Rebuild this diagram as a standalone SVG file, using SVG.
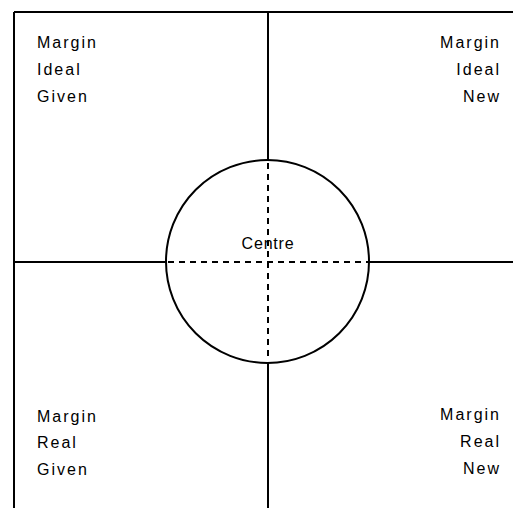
<svg xmlns="http://www.w3.org/2000/svg" width="513" height="508" viewBox="0 0 513 508">
<style>
.s{stroke:#000;stroke-width:2;fill:none}
.d{stroke:#000;stroke-width:2;fill:none;stroke-dasharray:6 5}
.t{font-family:"Liberation Sans",Arial,sans-serif;font-size:16px;letter-spacing:2px;fill:#000}
.c{font-family:"Liberation Sans",Arial,sans-serif;font-size:16px;letter-spacing:0.8px;fill:#000;text-anchor:middle}
.e{text-anchor:end}
</style>
<rect width="513" height="508" fill="#fff"/>
<g id="connectors">
<line class="s" x1="14" y1="12" x2="513" y2="12"/>
<line class="s" x1="14" y1="12" x2="14" y2="508"/>
<line class="s" x1="268" y1="12" x2="268" y2="161"/>
<line class="s" x1="268" y1="362" x2="268" y2="508"/>
<line class="s" x1="14" y1="262" x2="166" y2="262"/>
<line class="s" x1="369" y1="262" x2="513" y2="262"/>
<line class="d" x1="268" y1="163" x2="268" y2="361"/>
<line class="d" x1="168" y1="262" x2="368" y2="262"/>
</g>
<g id="centre">
<circle class="s" cx="267.5" cy="261.5" r="101.5"/>
<text class="c" x="268" y="249">Centre</text>
</g>
<g id="ideal-given">
<text class="t" x="37" y="48">Margin</text>
<text class="t" x="37" y="75">Ideal</text>
<text class="t" x="37" y="102">Given</text>
</g>
<g id="ideal-new">
<text class="t e" x="501" y="48">Margin</text>
<text class="t e" x="501" y="75">Ideal</text>
<text class="t e" x="501" y="102">New</text>
</g>
<g id="real-given">
<text class="t" x="37" y="422">Margin</text>
<text class="t" x="37" y="448">Real</text>
<text class="t" x="37" y="475">Given</text>
</g>
<g id="real-new">
<text class="t e" x="501" y="420">Margin</text>
<text class="t e" x="501" y="447">Real</text>
<text class="t e" x="501" y="474">New</text>
</g>
</svg>
